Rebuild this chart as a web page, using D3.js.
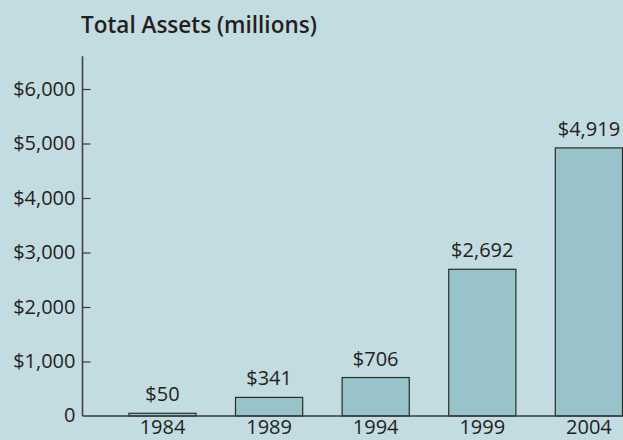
<!DOCTYPE html>
<html>
<head>
<meta charset="utf-8">
<script src="https://cdn.jsdelivr.net/npm/d3@7"></script>
<style>
  html, body { margin: 0; padding: 0; background: #c3dce1; }
  svg { display: block; }
  text { font-family: "Open Sans", "Noto Sans", sans-serif; fill: #231f20; }
</style>
</head>
<body>
<div class="chart"></div>
<script>
// chart data
var years = ["1984", "1989", "1994", "1999", "2004"];
var assets = [50, 341, 706, 2692, 4919];
var yTicks = [0, 1000, 2000, 3000, 4000, 5000, 6000];
var title = "Total Assets (millions)";

var width = 623, height = 440;

var svg = d3.select(".chart")
    .append("svg")
    .attr("width", width)
    .attr("height", height);

svg.append("rect")
    .attr("width", width)
    .attr("height", height)
    .attr("fill", "#c3dce1");

// scales
var x = d3.scaleBand()
    .domain(years)
    .range([109.2, 642.2])
    .paddingInner(0.37)
    .paddingOuter(0.185);

var y = d3.scaleLinear()
    .domain([0, 6000])
    .range([416, 89]);

var axisX = 82.5;

// title
svg.append("text")
    .attr("x", 81)
    .attr("y", 33)
    .style("font-size", "22.5px")
    .style("font-weight", 600)
    .text(title);

// y axis
var yAxis = d3.axisLeft(y)
    .tickValues(yTicks.slice(1))
    .tickSize(-8)
    .tickPadding(7)
    .tickFormat(function(d) { return "$" + d3.format(",")(d); });

var gy = svg.append("g")
    .attr("transform", "translate(" + axisX + ",0)")
    .call(yAxis);
gy.select(".domain").remove();
gy.selectAll(".tick line").attr("stroke", "#3a3a3a").attr("stroke-width", 1.2);
gy.selectAll(".tick text").style("font-size", "20px").attr("fill", "#231f20").attr("font-family", null);

// zero label
svg.append("text")
    .attr("x", axisX - 7)
    .attr("y", y(0))
    .attr("dy", "0.32em")
    .attr("text-anchor", "end")
    .style("font-size", "20px")
    .text("0");

// axis line
svg.append("line")
    .attr("x1", axisX).attr("x2", axisX)
    .attr("y1", y(6600)).attr("y2", y(0))
    .attr("stroke", "#3a3a3a")
    .attr("stroke-width", 1.5);

// bars
svg.selectAll("rect.bar")
    .data(assets)
    .enter().append("rect")
    .attr("class", "bar")
    .attr("x", function(d, i) { return x(years[i]); })
    .attr("y", function(d) { return y(d); })
    .attr("width", x.bandwidth())
    .attr("height", function(d) { return y(0) - y(d); })
    .attr("fill", "#98c3ca")
    .attr("stroke", "#2b2b2b")
    .attr("stroke-width", 1.2);

// baseline
svg.append("line")
    .attr("x1", axisX).attr("x2", width)
    .attr("y1", y(0)).attr("y2", y(0))
    .attr("stroke", "#3a3a3a")
    .attr("stroke-width", 1.5);

// value labels
svg.selectAll("text.value")
    .data(assets)
    .enter().append("text")
    .attr("class", "value")
    .attr("x", function(d, i) { return x(years[i]) + x.bandwidth() / 2; })
    .attr("y", function(d) { return y(d) - 12; })
    .attr("text-anchor", "middle")
    .style("font-size", "20px")
    .text(function(d) { return "$" + d3.format(",")(d); });

// year labels
svg.selectAll("text.year")
    .data(years)
    .enter().append("text")
    .attr("class", "year")
    .attr("x", function(d) { return x(d) + x.bandwidth() / 2; })
    .attr("y", 434)
    .attr("text-anchor", "middle")
    .style("font-size", "20px")
    .text(function(d) { return d; });
</script>
</body>
</html>
